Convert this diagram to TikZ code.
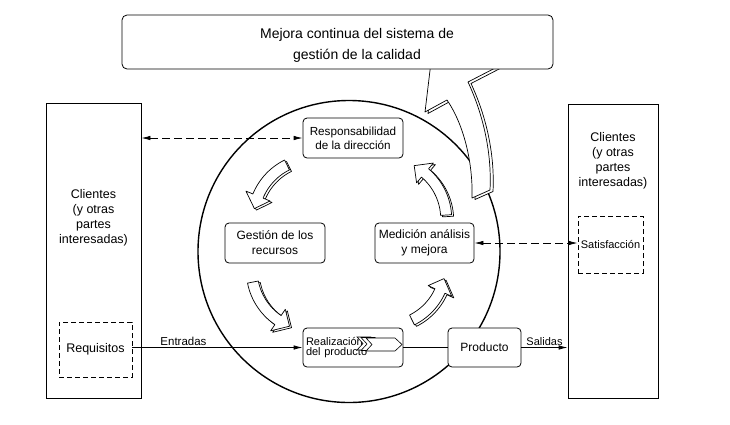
\documentclass[tikz,border=0pt]{standalone}
\usepackage{fontspec}
\setmainfont{Liberation Sans}
\usetikzlibrary{arrows.meta}
\tikzset{
 clientbox/.style={draw, line width=0.8pt, inner sep=0pt},
 rbox/.style={draw, line width=0.8pt, rounded corners=4pt, fill=white, align=center, inner sep=0pt, font=\fontsize{12}{15}\selectfont},
 dbox/.style={draw, line width=0.8pt, dash pattern=on 5pt off 3pt, inner sep=0pt},
 dline/.style={line width=0.8pt, dash pattern=on 8pt off 4pt},
 onetip/.style={-{Latex[length=9pt,width=4.5pt]}},
 dualtip/.style={{Latex[length=9pt,width=4.5pt]}-{Latex[length=9pt,width=4.5pt]}},
 arrowbody/.style={draw, fill=white, line width=0.7pt, line join=round},
 chevshape/.style={draw, fill=white, line width=0.6pt, line join=miter},
 lbl/.style={inner sep=0pt, align=center}
}
\newcommand{\arcarrow}[6]{%
  \pgfmathsetmacro{\myRin}{#3-5.5}\pgfmathsetmacro{\myRout}{#3+5.5}%
  \pgfmathsetmacro{\myHin}{#3-13}\pgfmathsetmacro{\myHout}{#3+13}%
  \foreach \dx/\dy in {2/1.5, 0/0} {
    \filldraw[arrowbody, shift={(#1+\dx,#2+\dy)}]
      plot[domain=#4:#5, samples=16] (\x:\myRin) -- (#5:\myHin) -- (#6:#3) -- (#5:\myHout)
      -- plot[domain=#5:#4, samples=16] (\x:\myRout) -- cycle;
  }
}
\begin{document}
\begin{tikzpicture}[x=1pt,y=-1pt]
\useasboundingbox (0,0) rectangle (730,424);

% central circle
\node[circle, draw, line width=1.4pt, minimum size=302pt, inner sep=0pt] (circ) at (349,251.5) {};

% big hollow arrow toward the top box
\foreach \dx/\dy in {3/1.5, 0/0} {
  \filldraw[arrowbody, shift={(\dx,\dy)}]
    (472,198) .. controls (473,168) and (466,128) .. (447,100)
    -- (425,112) -- (431,62) -- (447,25) -- (499,66) -- (468,82)
    .. controls (482,112) and (492,150) .. (490,190) -- cycle;
}

% small curved arrows (cycle)
\arcarrow{313.5}{218.8}{60}{243.8}{202.3}{189.8}
\arcarrow{311.8}{270.5}{60}{168.9}{124.3}{111.8}
\arcarrow{385.3}{266.2}{60}{63.6}{24.4}{11.9}
\arcarrow{386.2}{218.7}{60}{-3.5}{-49.7}{-62.2}

% top box
\node[rbox, rounded corners=5pt, minimum width=431pt, minimum height=54pt] (topbox) at (337.5,42) {};
\node[lbl, font=\fontsize{14}{21}\selectfont] (toptext) at (357,45) {Mejora continua del sistema de\\gestión de la calidad};

% customer boxes
\node[clientbox, minimum width=95pt, minimum height=295pt] (lbox) at (93.5,250.5) {};
\node[lbl, font=\fontsize{12.5}{15}\selectfont] (ltext) at (93.5,218) {Clientes\\(y otras\\partes\\interesadas)};
\node[clientbox, minimum width=90pt, minimum height=294pt] (rbox) at (613,251) {};
\node[lbl, font=\fontsize{12.5}{15}\selectfont] (rtext) at (613,161) {Clientes\\(y otras\\partes\\interesadas)};
\node[dbox, minimum width=73pt, minimum height=55pt, font=\fontsize{12.5}{15}\selectfont] (req) at (95.5,349.5) {Requisitos};
\node[dbox, minimum width=65pt, minimum height=57pt, font=\fontsize{11}{13}\selectfont] (sat) at (610.5,244.5) {Satisfacción};

% process boxes
\node[rbox, minimum width=100pt, minimum height=40pt, font=\fontsize{11.7}{14}\selectfont] (resp) at (353,138) {Responsabilidad\\de la dirección};
\node[rbox, minimum width=100pt, minimum height=40pt] (gest) at (275,243) {Gestión de los\\recursos};
\node[rbox, minimum width=99pt, minimum height=40pt] (med) at (424.5,243) {Medición análisis\\y mejora};
\node[rbox, minimum width=100pt, minimum height=39pt, text width=94pt, align=left, inner xsep=3pt, font=\fontsize{11}{10.5}\selectfont] (real) at (353,347.5) {Realización\\del producto};
\node[rbox, minimum width=73pt, minimum height=39pt] (prod) at (484.5,347.5) {Producto};

% chevrons inside Realizacion
\filldraw[chevshape] (357,337) -- (371,337) -- (377,343.5) -- (371,350) -- (357,350) -- (363,343.5) -- cycle;
\filldraw[chevshape] (361,337.5) -- (375,337.5) -- (381,344) -- (375,350.5) -- (361,350.5) -- (367,344) -- cycle;
\filldraw[chevshape] (366,338) -- (395,338) -- (402,344.5) -- (395,351) -- (366,351) -- (372,344.5) -- cycle;

% connectors
\draw[dline, dualtip] (resp.west -| lbox.east) -- (resp.west);
\draw[dline, dualtip] (med.east) -- (med.east -| sat.west);
\draw[line width=0.8pt, onetip] (real.west -| req.east) -- (real.west)
  node[pos=0.3, above=1.5pt, inner sep=0pt, font=\fontsize{11.5}{13}\selectfont] (entr) {Entradas};
\draw[line width=0.8pt] (real.east) -- (prod.west);
\draw[line width=0.8pt, onetip] (prod.east) -- (prod.east -| rbox.west)
  node[midway, above=1.5pt, inner sep=0pt, font=\fontsize{11}{13}\selectfont] (sal) {Salidas};
\end{tikzpicture}
\end{document}
